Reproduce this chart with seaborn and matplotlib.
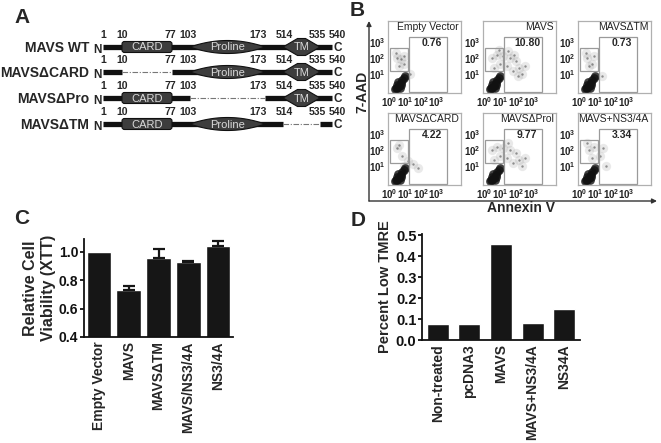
import numpy as np
import matplotlib
matplotlib.use('Agg')
import matplotlib.pyplot as plt
from matplotlib.patches import FancyBboxPatch, Polygon, Rectangle
import seaborn as sns

sns.set_theme(style='white')
plt.rcParams['font.family'] = ['Liberation Sans', 'DejaVu Sans']
plt.rcParams['font.weight'] = 'bold'
plt.rcParams['mathtext.fontset'] = 'custom'
plt.rcParams['mathtext.rm'] = 'Liberation Sans'
plt.rcParams['mathtext.bf'] = 'Liberation Sans:bold'

# ---- data ----
# A: MAVS constructs
constructs = ['MAVS WT', 'MAVSΔCARD', 'MAVSΔPro', 'MAVSΔTM']
residues = [1, 10, 77, 103, 173, 514, 535, 540]
deleted = [None, (10, 77), (103, 173), (514, 535)]
domains = [('CARD', 10, 77), ('Proline', 103, 173), ('TM', 514, 535)]

# B: flow cytometry (annexin V / 7-AAD)
flow_titles = ['Empty Vector', 'MAVS', 'MAVSΔTM', 'MAVSΔCARD', 'MAVSΔProl', 'MAVS+NS3/4A']
flow_pct = ['0.76', '10.80', '0.73', '4.22', '9.77', '3.34']
# main (live) population, log10 units
core_x = [0.35, 0.50, 0.45, 0.60, 0.70, 0.55, 0.80, 0.90, 0.65, 0.40, 0.75, 1.00]
core_y = [0.05, 0.10, 0.30, 0.25, 0.45, 0.50, 0.60, 0.75, 0.15, 0.15, 0.30, 0.90]
# sparse events per sample, log10 units
ev_x = [
    [0.5, 0.9, 0.6, 0.9, 0.4, 0.7, 1.3],
    [0.5, 0.8, 1.2, 1.6, 2.0, 2.2, 1.8, 1.4, 2.4, 1.0, 0.6, 2.6, 1.9, 1.5, 0.9, 2.1],
    [0.5, 0.9, 0.6, 0.8, 1.4, 0.4],
    [0.5, 0.8, 0.9, 1.2, 1.5, 1.8, 0.6],
    [0.5, 0.8, 1.2, 1.6, 2.0, 2.2, 1.8, 1.4, 2.4, 1.0, 0.6, 2.6, 1.5],
    [0.6, 0.9, 1.3, 1.5, 0.8, 1.7, 0.5],
]
ev_y = [
    [2.0, 2.1, 1.5, 1.6, 2.3, 1.9, 1.0],
    [2.0, 2.2, 2.1, 2.0, 1.8, 1.4, 1.2, 1.5, 1.0, 1.6, 1.4, 1.5, 2.2, 2.4, 2.5, 0.9],
    [2.0, 2.1, 1.5, 1.6, 0.9, 2.3],
    [2.1, 1.6, 1.0, 1.3, 1.1, 0.9, 2.3],
    [2.0, 2.2, 2.1, 2.0, 1.8, 1.4, 1.2, 1.5, 1.0, 1.6, 1.4, 1.5, 2.4],
    [2.0, 2.2, 1.6, 2.1, 1.5, 1.0, 2.4],
]
gate_dead = (0.03, 1.17, 1.19, 2.62)   # x0, x1, y0, y1 (log10)
gate_apop = (1.24, 3.66, -0.13, 3.31)

# C: XTT viability
xtt_groups = ['Empty Vector', 'MAVS', 'MAVSΔTM', 'MAVS/NS3/4A', 'NS3/4A']
xtt_viability = [1.00, 0.734, 0.957, 0.929, 1.038]
xtt_err = [0.0, 0.024, 0.065, 0.007, 0.035]

# D: TMRE
tmre_groups = ['Non-treated', 'pcDNA3', 'MAVS', 'MAVS+NS3/4A', 'NS34A']
tmre_low = [0.074, 0.074, 0.456, 0.080, 0.150]

W, H = 661, 443
fig = plt.figure(figsize=(W / 100, H / 100), dpi=100)


def px_rect(left, top, w, h):
    return [left / W, 1 - (top + h) / H, w / W, h / H]


# overlay for panel letters and B arrows
ov = fig.add_axes([0, 0, 1, 1], zorder=-1)
ov.set_xlim(0, W)
ov.set_ylim(H, 0)
ov.axis('off')
for letter, (lx, ly) in zip('ABCD', [(22, 17), (357, 10), (22, 218), (358, 220)]):
    ov.text(lx, ly, letter, fontsize=15, fontweight='bold', ha='center', va='center')

# ---- A: domain schematic ----
ax_a = fig.add_axes(px_rect(0, 0, 350, 140))
ax_a.set_xlim(0, 350)
ax_a.set_ylim(140, 0)
ax_a.axis('off')
res_x = dict(zip(residues, [103, 122, 172, 190, 265, 283, 320, 332]))
label_x = [103, 122, 170, 188, 258, 284, 317, 337]
row_y = [47, 72, 98, 124]
dom_fill = '#3d3d3d'
for name, y, gap in zip(constructs, row_y, deleted):
    ax_a.text(89, y + 1, name, ha='right', va='center', fontsize=10, fontweight='bold')
    ax_a.text(97, y + 3, 'N', ha='center', va='center', fontsize=8.5, fontweight='bold')
    ax_a.text(333.5, y + 1, 'C', ha='left', va='center', fontsize=8.5, fontweight='bold')
    for r, lx in zip(residues, label_x):
        ax_a.text(lx, y - 12, str(r), ha='center', va='center', fontsize=7.5, fontweight='bold')
    if gap is None:
        ax_a.plot([res_x[1], res_x[540]], [y, y], color='#111111', lw=3.8, solid_capstyle='butt')
    else:
        g0, g1 = res_x[gap[0]], res_x[gap[1]]
        ax_a.plot([res_x[1], g0], [y, y], color='#111111', lw=3.8, solid_capstyle='butt')
        ax_a.plot([g1, res_x[540]], [y, y], color='#111111', lw=3.8, solid_capstyle='butt')
        ax_a.plot([g0, g1], [y, y], color='#777777', lw=0.8, ls=(0, (5, 1.5, 1, 1.5)))
    for dname, d0, d1 in domains:
        if gap is not None and gap == (d0, d1):
            continue
        x0, x1 = res_x[d0], res_x[d1]
        xc = (x0 + x1) / 2
        if dname == 'CARD':
            ax_a.add_patch(FancyBboxPatch((x0, y - 5.5), x1 - x0, 11,
                                          boxstyle='round,pad=0,rounding_size=2.5',
                                          fc=dom_fill, ec='#111111', lw=0.8, zorder=3))
        elif dname == 'Proline':
            u = np.linspace(-1, 1, 60)
            top = np.column_stack([xc + u * (x1 - x0) / 2, y - 6.5 * (1 - u ** 2)])
            bot = np.column_stack([xc - u * (x1 - x0) / 2, y + 6.5 * (1 - u ** 2)])
            ax_a.add_patch(Polygon(np.vstack([top, bot]), closed=True,
                                   fc=dom_fill, ec='#111111', lw=0.8, zorder=3))
        else:
            ax_a.add_patch(Polygon([(x0, y), (xc - 4, y - 8.5), (xc + 4, y - 8.5), (x1, y),
                                    (xc + 4, y + 8.5), (xc - 4, y + 8.5)], closed=True,
                                   fc=dom_fill, ec='#111111', lw=0.8, zorder=3))
        ax_a.text(xc, y + 0.5, dname, ha='center', va='center', fontsize=8,
                  fontweight='normal', color='#d9d9d9', zorder=4)

# ---- B: flow cytometry grid ----
cell_left = [388, 483, 578]
cell_top = [21, 113]
for i, (title, pct) in enumerate(zip(flow_titles, flow_pct)):
    r, c = divmod(i, 3)
    ax = fig.add_axes(px_rect(cell_left[c], cell_top[r], 73, 72))
    ax.set_xscale('log')
    ax.set_yscale('log')
    # fuzzy gray clouds of dying cells
    sns.scatterplot(x=10 ** np.array(ev_x[i]), y=10 ** np.array(ev_y[i]), s=45,
                    color='#8a8a8a', alpha=0.18, linewidth=0, ax=ax)
    sns.scatterplot(x=10 ** np.array(ev_x[i]), y=10 ** np.array(ev_y[i]), s=3,
                    color='#666666', alpha=0.7, linewidth=0, ax=ax)
    # dense live population
    sns.scatterplot(x=10 ** np.array(core_x), y=10 ** np.array(core_y), s=40,
                    color='#111111', alpha=0.8, linewidth=0, ax=ax)
    for g in (gate_dead, gate_apop):
        ax.add_patch(Rectangle((10 ** g[0], 10 ** g[2]), 10 ** g[1] - 10 ** g[0],
                               10 ** g[3] - 10 ** g[2], fill=False, ec='#9a9a9a', lw=0.9))
    ax.set_xlim(10 ** -0.1, 10 ** 4.55)
    ax.set_ylim(10 ** -0.19, 10 ** 4.3)
    ax.set_xticks([1, 10, 100, 1000])
    ax.set_xticklabels([r'$10^0$', r'$10^1$', r'$10^2$', r'$10^3$'])
    ax.set_yticks([10, 100, 1000])
    ax.set_yticklabels([r'$10^1$', r'$10^2$', r'$10^3$'])
    ax.minorticks_off()
    ax.tick_params(length=0, pad=1.5, labelsize=7, colors='#222222')
    ax.set_xlabel('')
    ax.set_ylabel('')
    for s in ax.spines.values():
        s.set_color('#b0b0b0')
        s.set_linewidth(0.9)
    ax.text(0.97, 0.92, title, transform=ax.transAxes, ha='right', va='center',
            fontsize=7.5, fontweight='normal', color='#222222')
    ax.text(10 ** 2.7, 10 ** 2.95, pct, ha='center', va='center', fontsize=7.5, fontweight='bold')

arrow = dict(arrowstyle='-|>', color='#333333', lw=1.0, mutation_scale=7, shrinkA=0, shrinkB=0)
ov.annotate('', xy=(369, 21), xytext=(369, 201), arrowprops=arrow)
ov.annotate('', xy=(657, 201), xytext=(369, 201), arrowprops=arrow)
ov.text(362, 92, '7-AAD', rotation=90, ha='center', va='center', fontsize=10, fontweight='bold')
ov.text(521, 208, 'Annexin V', ha='center', va='center', fontsize=10, fontweight='bold')


def style_bar_axes(ax):
    sns.despine(ax=ax)
    for s in ('left', 'bottom'):
        ax.spines[s].set_color('#111111')
        ax.spines[s].set_linewidth(1.3)
    ax.tick_params(axis='y', direction='out', length=3, width=1.3, pad=1,
                   labelsize=10.5, colors='#111111', left=True)
    ax.tick_params(axis='x', length=0, pad=3, labelsize=10, rotation=90)
    ax.set_xlabel('')


# ---- C: XTT ----
ax_c = fig.add_axes(px_rect(84, 239, 149, 98))
sns.barplot(x=xtt_groups, y=xtt_viability, color='#161616', saturation=1,
            width=0.83, errorbar=None, ax=ax_c)
err_idx = [k for k, e in enumerate(xtt_err) if e > 0]
ax_c.errorbar(err_idx, [xtt_viability[k] for k in err_idx],
              yerr=[[0] * len(err_idx), [xtt_err[k] for k in err_idx]],
              fmt='none', ecolor='#161616', elinewidth=1.6, capsize=4, capthick=1.6)
ax_c.set_ylim(0.4, 1.09)
ax_c.set_xlim(-0.5, 4.5)
ax_c.set_yticks([0.4, 0.6, 0.8, 1.0])
ax_c.set_ylabel('Relative Cell\nViability (XTT)', fontsize=11.5, fontweight='bold',
                linespacing=1.3)
style_bar_axes(ax_c)
ax_c.tick_params(axis='y', labelsize=10)
ax_c.yaxis.set_label_coords(-0.185, 0.5)

# ---- D: TMRE ----
ax_d = fig.add_axes(px_rect(422, 234, 158, 106))
sns.barplot(x=tmre_groups, y=tmre_low, color='#161616', saturation=1,
            width=0.7, errorbar=None, ax=ax_d)
ax_d.set_ylim(0, 0.505)
ax_d.set_xlim(-0.5, 4.5)
ax_d.set_yticks([0.0, 0.1, 0.2, 0.3, 0.4, 0.5])
ax_d.set_ylabel('Percent Low TMRE', fontsize=10.5, fontweight='bold', labelpad=3)
style_bar_axes(ax_d)

fig.savefig('out.png', dpi=100)
